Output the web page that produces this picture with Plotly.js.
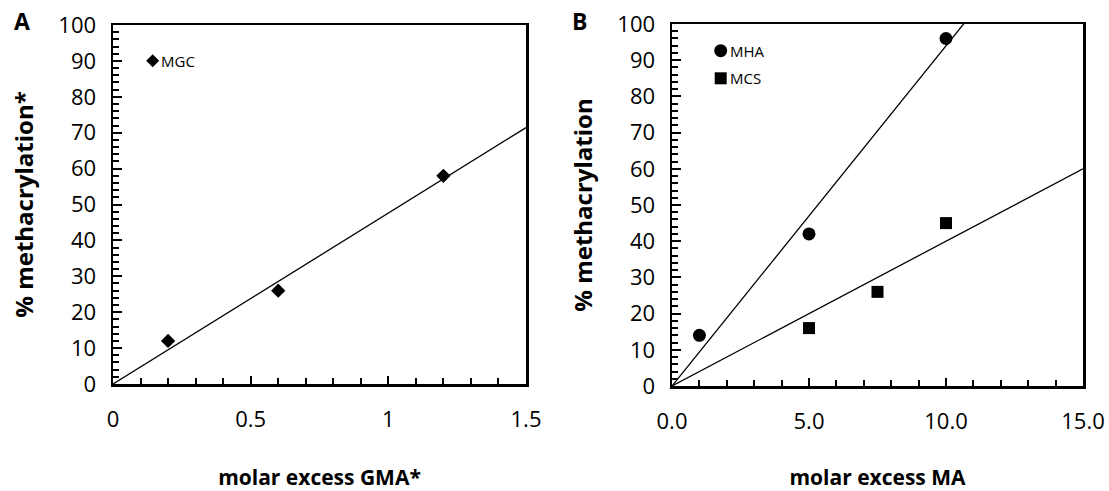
<!DOCTYPE html>
<html>
<head>
<meta charset="utf-8">
<script src="https://cdn.plot.ly/plotly-3.0.1.min.js"></script>
<style>
  html, body { margin: 0; padding: 0; background: #ffffff; }
  #chart { width: 1109px; height: 491px; }
</style>
</head>
<body>
<div id="chart"></div>
<script>
// Panel A: methacrylation of MGC vs molar excess of GMA
const gmaExcess = [0.2, 0.6, 1.2];
const mgcMethacrylation = [12, 26, 58];

// Panel B: methacrylation of MHA and MCS vs molar excess of MA
const mhaExcess = [1, 5, 10];
const mhaMethacrylation = [14, 42, 96];
const mcsExcess = [5, 7.5, 10];
const mcsMethacrylation = [16, 26, 45];

// Axis ticks
const xTickValsA = [0, 0.5, 1, 1.5];
const xTickTextA = ['0', '0.5', '1', '1.5'];
const xTickValsB = [0, 5, 10, 15];
const xTickTextB = ['0.0', '5.0', '10.0', '15.0'];
const yTickVals = [0, 10, 20, 30, 40, 50, 60, 70, 80, 90, 100];
const yTickText = ['0', '10', '20', '30', '40', '50', '60', '70', '80', '90', '100'];

// Least-squares slope of a line forced through the origin
function originSlope(xs, ys) {
  let sxy = 0, sxx = 0;
  for (let i = 0; i < xs.length; i++) { sxy += xs[i] * ys[i]; sxx += xs[i] * xs[i]; }
  return sxy / sxx;
}

const FONT = 'Open Sans, Noto Sans, sans-serif';
const W = 1109, H = 491;
const px = v => v / W;
const py = v => 1 - v / H;

const slopeMGC = originSlope(gmaExcess, mgcMethacrylation);
const slopeMHA = originSlope(mhaExcess, mhaMethacrylation);
const slopeMCS = originSlope(mcsExcess, mcsMethacrylation);

const xMaxA = xTickValsA[xTickValsA.length - 1];
const xMaxB = xTickValsB[xTickValsB.length - 1];

const markerLine = { width: 0 };
const traces = [
  { x: [0, xMaxA], y: [0, slopeMGC * xMaxA], xaxis: 'x', yaxis: 'y', mode: 'lines',
    line: { color: '#000', width: 1.3 }, hoverinfo: 'skip', showlegend: false },
  { x: gmaExcess, y: mgcMethacrylation, xaxis: 'x', yaxis: 'y', mode: 'markers', name: 'MGC',
    marker: { symbol: 'diamond', size: 11, color: '#000', line: markerLine }, showlegend: false },

  { x: [0, xMaxB], y: [0, slopeMHA * xMaxB], xaxis: 'x2', yaxis: 'y2', mode: 'lines',
    line: { color: '#000', width: 1.3 }, hoverinfo: 'skip', showlegend: false },
  { x: [0, xMaxB], y: [0, slopeMCS * xMaxB], xaxis: 'x2', yaxis: 'y2', mode: 'lines',
    line: { color: '#000', width: 1.3 }, hoverinfo: 'skip', showlegend: false },
  { x: mhaExcess, y: mhaMethacrylation, xaxis: 'x2', yaxis: 'y2', mode: 'markers', name: 'MHA',
    marker: { symbol: 'circle', size: 13, color: '#000', line: markerLine }, showlegend: false },
  { x: mcsExcess, y: mcsMethacrylation, xaxis: 'x2', yaxis: 'y2', mode: 'markers', name: 'MCS',
    marker: { symbol: 'square', size: 12, color: '#000', line: markerLine }, showlegend: false }
];

const tickFont = { family: FONT, size: 22, color: '#000' };
const xTitleFont = { family: FONT, size: 21, color: '#000', weight: 'bold' };
const yTitleFont = { family: FONT, size: 24, color: '#000', weight: 'bold' };

function xAxis(domain, anchor, vals, text, minorStep, titleText) {
  return {
    domain: domain, anchor: anchor, range: [vals[0], vals[vals.length - 1]],
    tickmode: 'array', tickvals: vals, ticktext: text,
    ticks: 'inside', ticklen: 8, tickwidth: 2, tickcolor: '#000',
    minor: { dtick: minorStep, ticks: 'inside', ticklen: 6, tickwidth: 2, tickcolor: '#000', showgrid: false },
    showline: true, linewidth: 2.5, linecolor: '#000', mirror: true,
    showgrid: false, zeroline: false, fixedrange: true,
    tickfont: tickFont, ticklabelstandoff: 14,
    title: { text: titleText, font: xTitleFont, standoff: 41 },
    automargin: false
  };
}
function yAxis(domain, anchor, titleText) {
  return {
    domain: domain, anchor: anchor, range: [0, 100],
    tickmode: 'array', tickvals: yTickVals, ticktext: yTickText,
    ticks: 'inside', ticklen: 9, tickwidth: 2, tickcolor: '#000',
    minor: { dtick: 2, ticks: 'inside', ticklen: 6, tickwidth: 2, tickcolor: '#000', showgrid: false },
    showline: true, linewidth: 2.5, linecolor: '#000', mirror: true,
    showgrid: false, zeroline: false, fixedrange: true,
    tickfont: tickFont, ticklabelstandoff: 10,
    title: { text: titleText, font: yTitleFont, standoff: 18 },
    automargin: false
  };
}

// Legend keys drawn as pixel-sized shapes next to their labels
const keyA = { x: px(152.7), y: py(60.7) };
const keyB1 = { x: px(720.7), y: py(50.7) };
const keyB2 = { x: px(720.7), y: py(78.3) };
const shapes = [
  { type: 'path', xref: 'paper', yref: 'paper', xsizemode: 'pixel', ysizemode: 'pixel',
    xanchor: keyA.x, yanchor: keyA.y, path: 'M0,6.5 L6.5,0 L0,-6.5 L-6.5,0 Z',
    fillcolor: '#000', line: { width: 0 } },
  { type: 'circle', xref: 'paper', yref: 'paper', xsizemode: 'pixel', ysizemode: 'pixel',
    xanchor: keyB1.x, yanchor: keyB1.y, x0: -6.5, x1: 6.5, y0: -6.5, y1: 6.5,
    fillcolor: '#000', line: { width: 0 } },
  { type: 'rect', xref: 'paper', yref: 'paper', xsizemode: 'pixel', ysizemode: 'pixel',
    xanchor: keyB2.x, yanchor: keyB2.y, x0: -6, x1: 6, y0: -6, y1: 6,
    fillcolor: '#000', line: { width: 0 } }
];

const legendFont = { family: FONT, size: 15, color: '#000' };
const annotations = [
  { text: 'MGC', xref: 'paper', yref: 'paper', x: px(159), y: py(60.5), xanchor: 'left', yanchor: 'middle',
    showarrow: false, font: legendFont },
  { text: 'MHA', xref: 'paper', yref: 'paper', x: px(728), y: py(50.5), xanchor: 'left', yanchor: 'middle',
    showarrow: false, font: legendFont },
  { text: 'MCS', xref: 'paper', yref: 'paper', x: px(728), y: py(78), xanchor: 'left', yanchor: 'middle',
    showarrow: false, font: legendFont },
  { text: '<b>A</b>', xref: 'paper', yref: 'paper', x: px(22), y: py(21), xanchor: 'center', yanchor: 'middle',
    showarrow: false, font: { family: FONT, size: 23, color: '#000' } },
  { text: '<b>B</b>', xref: 'paper', yref: 'paper', x: px(579), y: py(21), xanchor: 'center', yanchor: 'middle',
    showarrow: false, font: { family: FONT, size: 23, color: '#000' } }
];

const layout = {
  width: W, height: H,
  margin: { l: 0, r: 0, t: 0, b: 0 },
  paper_bgcolor: '#fff', plot_bgcolor: '#fff',
  showlegend: false,
  xaxis: xAxis([px(113), px(526)], 'y', xTickValsA, xTickTextA, 0.1, 'molar excess GMA*'),
  yaxis: yAxis([py(384), py(25)], 'x', '% methacrylation*'),
  xaxis2: xAxis([px(672), px(1083)], 'y2', xTickValsB, xTickTextB, 1, 'molar excess MA'),
  yaxis2: yAxis([py(386), py(24)], 'x2', '% methacrylation'),
  shapes: shapes,
  annotations: annotations
};

Plotly.newPlot('chart', traces, layout, { staticPlot: true, displayModeBar: false });
</script>
</body>
</html>
